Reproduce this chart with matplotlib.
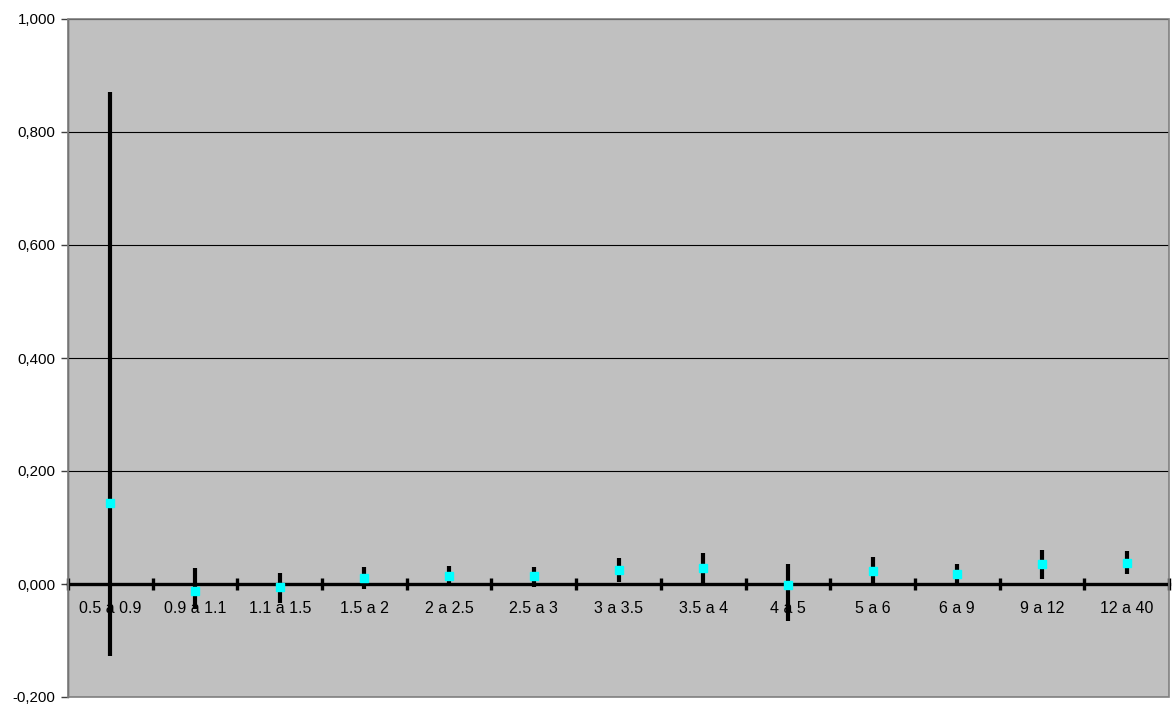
import matplotlib

matplotlib.use("Agg")
import matplotlib.pyplot as plt
from matplotlib.patches import Rectangle
from matplotlib.ticker import FuncFormatter, MultipleLocator
import numpy as np

plt.rcParams["font.family"] = ["Liberation Sans", "DejaVu Sans"]

categories = ["0.5 a 0.9", "0.9 a 1.1", "1.1 a 1.5", "1.5 a 2", "2 a 2.5", "2.5 a 3",
              "3 a 3.5", "3.5 a 4", "4 a 5", "5 a 6", "6 a 9", "9 a 12", "12 a 40"]
high = [0.871, 0.028, 0.020, 0.030, 0.032, 0.030, 0.046, 0.055, 0.036, 0.048, 0.036, 0.061, 0.059]
low = [-0.127, -0.045, -0.034, -0.009, 0.000, -0.005, 0.003, 0.002, -0.065, 0.000, 0.000, 0.009, 0.017]
mid = [0.143, -0.012, -0.006, 0.011, 0.015, 0.014, 0.024, 0.028, -0.001, 0.023, 0.017, 0.035, 0.037]

_BG = "#C0C0C0"
_BORDER = "#808080"

fig = plt.figure(figsize=(11.72, 7.09), dpi=100, facecolor="white")
ax = fig.add_axes([68 / 1172, 12 / 709, 1101 / 1172, 678 / 709])
ax.set_facecolor(_BG)

x = np.arange(len(categories))
ax.vlines(x, low, high, colors="black", linewidth=3.0, zorder=3)
ax.plot(x, mid, linestyle="none", marker="s", markersize=5.5,
        markerfacecolor="#00FFFF", markeredgecolor="#00FFFF", zorder=4)

ax.set_xlim(-0.5, len(categories) - 0.5)
ax.set_ylim(-0.2, 1.0)

# gridlines
ax.yaxis.set_major_locator(MultipleLocator(0.2))
ax.grid(axis="y", color="black", linewidth=0.8, zorder=1)
ax.set_axisbelow(True)
ax.yaxis.set_major_formatter(FuncFormatter(lambda v, p: f"{v:.3f}".replace(".", ",")))
ax.tick_params(axis="y", direction="out", length=5, width=1, color="#404040",
               labelsize=10.8, pad=4)

# category axis sits on the zero line
for side in ("top", "right"):
    ax.spines[side].set_visible(False)
ax.spines["left"].set_color("#404040")
ax.spines["left"].set_linewidth(1)
ax.spines["bottom"].set_position(("data", 0))
ax.spines["bottom"].set_color("black")
ax.spines["bottom"].set_linewidth(2.4)
ax.spines["bottom"].set_zorder(2)

ax.set_xticks(x)
ax.set_xticklabels(categories)
ax.set_xticks(np.arange(len(categories) + 1) - 0.5, minor=True)
ax.tick_params(axis="x", which="major", length=0, labelsize=11.5, pad=12)
ax.tick_params(axis="x", which="minor", direction="inout", length=9, width=2.4, color="black")

# plot-area border
ax.add_patch(Rectangle((0, 0), 1, 1, transform=ax.transAxes, fill=False,
                       edgecolor=_BORDER, linewidth=1.2, zorder=5, clip_on=False))

fig.savefig("out.png", dpi=100, facecolor="white")
plt.close(fig)
